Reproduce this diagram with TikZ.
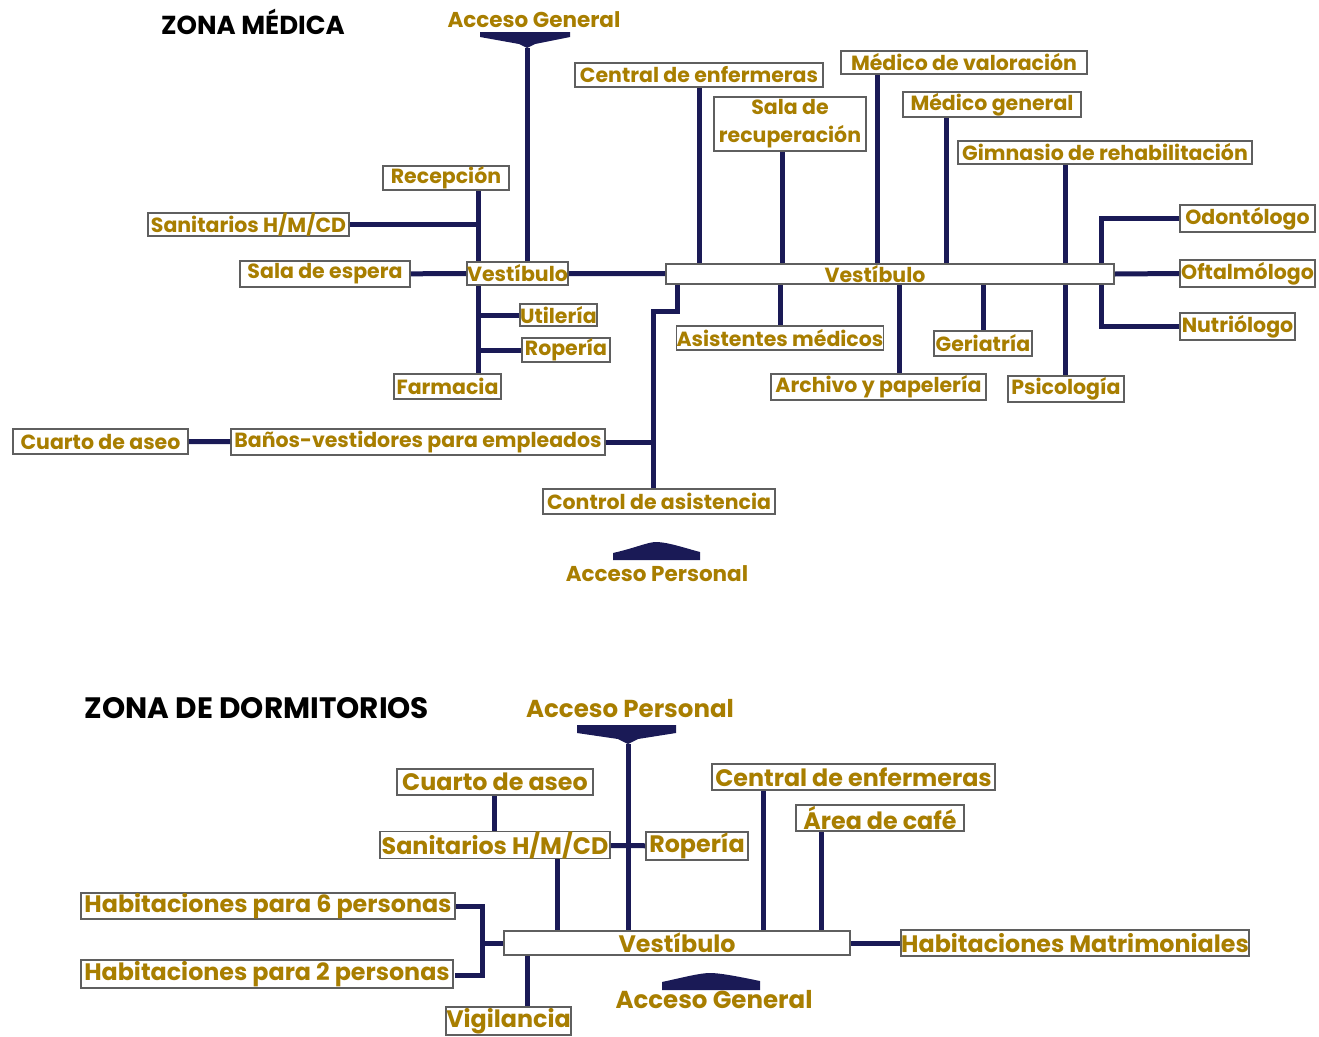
\documentclass[tikz,border=0pt]{standalone}
\usepackage{fontspec}
\setmainfont{Poppins}
\usepackage{tikz}
\usetikzlibrary{positioning}
\definecolor{linknavy}{RGB}{26,26,86}
\definecolor{labelgold}{RGB}{168,126,0}
\definecolor{boxgray}{RGB}{95,95,95}

\begin{document}
\begin{tikzpicture}[x=1pt,y=-1pt,
  room/.style={draw=boxgray,line width=1.6pt,fill=white,inner sep=0pt,text=labelgold,font=\fontsize{20.5}{22}\selectfont\bfseries},
  bigroom/.style={room,font=\fontsize{23.8}{25}\selectfont\bfseries},
  access/.style={text=labelgold,inner sep=0pt,font=\fontsize{21.5}{23}\selectfont\bfseries},
  zonetitle/.style={text=black,inner sep=0pt,font=\fontsize{26}{28}\selectfont\bfseries},
  link/.style={draw=linknavy,line width=5pt},
  gate/.style={fill=linknavy}]
  \useasboundingbox (0,0) rectangle (1319,1036);

  % zona medica
  \node[zonetitle] (titleA) at (253,22) {ZONA MÉDICA};
  \node[access] (accGA) at (534,20) {Acceso General};
  \node[access] (accPA) at (657,574) {Acceso Personal};
  \fill[gate] (480,32) -- (570,32) -- (570,37) -- (535,44) -- (527,48) -- (519,44) -- (480,37) -- cycle;
  \fill[gate] (613,560) -- (613,553) .. controls (635,548) and (648,542) .. (656,542) .. controls (668,542) and (688,549) .. (700,552) -- (700,560) -- cycle;

  \coordinate (gateA) at (527,48);
  \coordinate (bendA) at (677,311);
  \coordinate (bendB) at (653,311);

  \draw[link] (gateA) -- (527,262);
  \draw[link] (478,190) -- (478,374);
  \draw[link] (699,87) -- (699,264);
  \draw[link] (877,74) -- (877,264);
  \draw[link] (782,151) -- (782,264);
  \draw[link] (946,117) -- (946,264);
  \draw[link] (1065,164) -- (1065,376);
  \draw[link] (677,284) -- (bendA) -- (bendB) -- (653,489);
  \draw[link] (780,284) -- (780,326);
  \draw[link] (899,284) -- (899,374);
  \draw[link] (983,284) -- (983,331);
  \draw[link] (1180,218) -| (1101,326) -- (1180,326);

  \node[room,minimum width=126pt,minimum height=24pt] (recep) at (446,178) {Recepción};
  \node[room,minimum width=201pt,minimum height=23pt] (sanA) at (248.5,224.5) {Sanitarios H/M/CD};
  \node[room,minimum width=170pt,minimum height=26pt] (espera) at (325,274) {Sala de espera};
  \node[room,minimum width=101pt,minimum height=23pt] (vestA) at (517.5,273.5) {Vestíbulo};
  \node[room,minimum width=448pt,minimum height=20pt] (vestB) at (890,274) {\hspace*{-30pt}Vestíbulo};
  \node[room,minimum width=248pt,minimum height=24pt] (centA) at (699,75) {Central de enfermeras};
  \node[room,minimum width=246pt,minimum height=23pt] (medval) at (964,62.5) {Médico de valoración};
  \node[room,minimum width=152pt,minimum height=54pt,align=center,font=\fontsize{20.5}{28}\selectfont\bfseries] (salarec) at (790,124) {Sala de\\recuperación};
  \node[room,minimum width=178pt,minimum height=25pt] (medgen) at (992,104.5) {Médico general};
  \node[room,minimum width=294pt,minimum height=23pt] (gimna) at (1105,152.5) {Gimnasio de rehabilitación};
  \node[room,minimum width=135pt,minimum height=27pt] (odonto) at (1247.5,218.5) {Odontólogo};
  \node[room,minimum width=135pt,minimum height=27pt] (oftal) at (1247.5,273.5) {Oftalmólogo};
  \node[room,minimum width=115pt,minimum height=27pt] (nutri) at (1237.5,326.5) {Nutriólogo};
  \node[room,minimum width=73pt,minimum height=22pt] (utile) at (558.5,315) {Utilería};
  \node[room,minimum width=88pt,minimum height=24pt] (roper) at (566,350) {Ropería};
  \node[room,minimum width=107pt,minimum height=25pt] (farma) at (447.5,386.5) {Farmacia};
  \node[room,minimum width=206pt,minimum height=24pt] (asist) at (780,338) {Asistentes médicos};
  \node[room,minimum width=215pt,minimum height=26pt] (archi) at (878.5,387) {Archivo y papelería};
  \node[room,minimum width=98pt,minimum height=25pt] (geria) at (983,343.5) {Geriatría};
  \node[room,minimum width=116pt,minimum height=26pt] (psico) at (1066,389) {Psicología};
  \node[room,minimum width=175pt,minimum height=25pt] (aseoA) at (100.5,441.5) {Cuarto de aseo};
  \node[room,minimum width=374pt,minimum height=26pt] (banos) at (418,442) {Baños-vestidores para empleados};
  \node[room,minimum width=232pt,minimum height=25pt] (control) at (659,501.5) {Control de asistencia};

  \draw[link] (sanA.east) -- (478,0 |- sanA.east);
  \draw[link] (espera) -- (vestA);
  \draw[link] (vestA) -- (vestB);
  \draw[link] (478,0 |- utile.west) -- (utile.west);
  \draw[link] (478,0 |- roper.west) -- (roper.west);
  \draw[link] (vestB.east) -- (oftal.west);
  \draw[link] (aseoA) -- (banos);
  \draw[link] (653,0 |- banos.east) -- (banos.east);

  % zona de dormitorios
  \node[zonetitle,font=\fontsize{29.5}{31}\selectfont\bfseries] (titleB) at (257,708) {ZONA DE DORMITORIOS};
  \node[access,font=\fontsize{24.5}{26}\selectfont\bfseries] (accPB) at (630,709) {Acceso Personal};
  \node[access,font=\fontsize{24.5}{26}\selectfont\bfseries] (accGB) at (714,1000) {Acceso General};
  \fill[gate] (577,725) -- (676,725) -- (676,733) -- (638,739) -- (628,744) -- (618,739) -- (577,733) -- cycle;
  \fill[gate] (662,990) -- (662,982) .. controls (685,977) and (700,973) .. (710,973) .. controls (722,973) and (745,978) .. (760,981) -- (760,990) -- cycle;

  \coordinate (gateB) at (628,744);

  \draw[link] (gateB) -- (628,931);
  \draw[link] (494,795) -- (494,832);
  \draw[link] (557,858) -- (557,931);
  \draw[link] (763,790) -- (763,931);
  \draw[link] (821,831) -- (821,931);
  \draw[link] (455,906) -| (482,975) -- (455,975);
  \draw[link] (482,943) -- (504,943);
  \draw[link] (527,955) -- (527,1007);

  \node[bigroom,minimum width=196pt,minimum height=26pt] (aseoB) at (495,782) {Cuarto de aseo};
  \node[bigroom,minimum width=230pt,minimum height=26pt] (sanB) at (495,845) {Sanitarios H/M/CD};
  \node[bigroom,minimum width=102pt,minimum height=28pt] (ropB) at (697,846) {Ropería};
  \node[bigroom,minimum width=283pt,minimum height=26pt] (centB) at (853.5,777) {Central de enfermeras};
  \node[bigroom,minimum width=168pt,minimum height=26pt] (cafe) at (880,818) {Área de café};
  \node[bigroom,minimum width=374pt,minimum height=26pt] (hab6) at (268,906) {Habitaciones para 6 personas};
  \node[bigroom,minimum width=372pt,minimum height=28pt] (hab2) at (267,974) {Habitaciones para 2 personas};
  \node[bigroom,minimum width=346pt,minimum height=24pt] (vestC) at (677,943) {Vestíbulo};
  \node[bigroom,minimum width=344pt,minimum height=26pt] (habmat) at (1075,943) {Habitaciones Matrimoniales};
  \node[bigroom,minimum width=125pt,minimum height=28pt] (vigil) at (508.5,1021) {Vigilancia};

  \draw[link] (sanB) -- (ropB);
  \draw[link] (vestC) -- (habmat);
\end{tikzpicture}
\end{document}
